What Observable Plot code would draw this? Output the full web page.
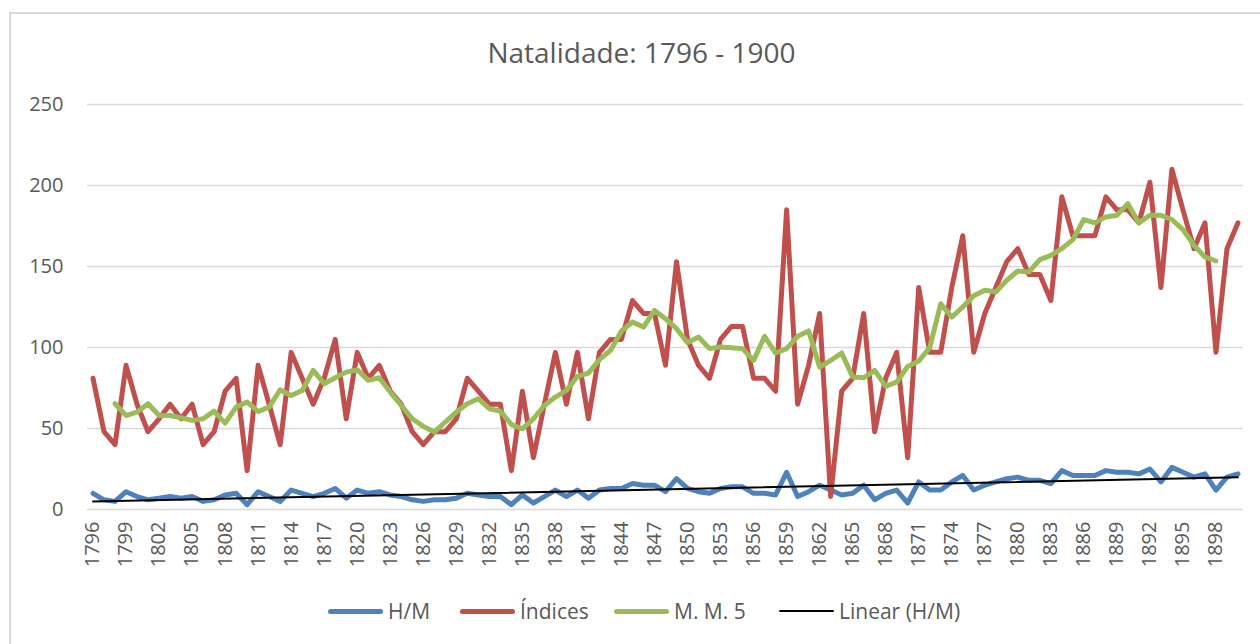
<!DOCTYPE html>
<html>
<head>
<meta charset="utf-8">
<script src="https://cdn.jsdelivr.net/npm/d3@7"></script>
<script src="https://cdn.jsdelivr.net/npm/@observablehq/plot@0.6"></script>
<style>
  html, body { margin:0; padding:0; background:#fff; overflow:hidden; width:1260px; height:644px; }
  body { font-family:'Open Sans', sans-serif; color:#595959; position:relative; }
  #frame { position:absolute; left:9px; top:12px; width:1400px; height:800px; border:2px solid #d9d9d9; box-sizing:border-box; }
  #title { position:absolute; left:0; top:38px; width:1283px; text-align:center; font-size:28px; line-height:28px; color:#595959; }
  #chart { position:absolute; left:0; top:80px; }
  .item { position:absolute; top:599px; height:24px; display:flex; align-items:center; font-size:21px; line-height:24px; color:#595959; white-space:nowrap; }
  .sw { width:55px; margin-right:5px; border-radius:3px; }
</style>
</head>
<body>
<div id="frame"></div>
<div id="title">Natalidade: 1796 - 1900</div>
<div id="chart"></div>
<div id="legend"></div>
<script>
// Categories (years) and tick labels
const years = d3.range(1796, 1901);
const xTicks = d3.range(1796, 1899, 3);
const yTicks = [0, 50, 100, 150, 200, 250];

// H/M series (1796-1900)
const hm = [
  10,6,5,11,8,6,7,8,7,8,
  5,6,9,10,3,11,8,5,12,10,
  8,10,13,7,12,10,11,9,8,6,
  5,6,6,7,10,9,8,8,3,9,
  4,8,12,8,12,7,12,13,13,16,
  15,15,11,19,13,11,10,13,14,14,
  10,10,9,23,8,11,15,12,9,10,
  15,6,10,12,4,17,12,12,17,21,
  12,15,17,19,20,18,18,16,24,21,
  21,21,24,23,23,22,25,17,26,23,
  20,22,12,20,22
];

// Índices series (1796-1900)
const indices = [
  81,48,40,89,65,48,56,65,56,65,
  40,48,73,81,24,89,65,40,97,81,
  65,81,105,56,97,81,89,73,65,48,
  40,48,48,56,81,73,65,65,24,73,
  32,65,97,65,97,56,97,105,105,129,
  121,121,89,153,105,89,81,105,113,113,
  81,81,73,185,65,89,121,8,73,81,
  121,48,81,97,32,137,97,97,137,169,
  97,121,137,153,161,145,145,129,193,169,
  169,169,193,185,185,177,202,137,210,185,
  161,177,97,161,177
];

// M. M. 5 series (1798-1898)
const mmYears = d3.range(1798, 1899);
const mm5 = [
  65.3,58,60.1,65.3,58,58,56.6,55,56,60.7,53.3,63.2,66.3,60.5,63.2,73.9,70.4,73.5,85.9,
  77.6,81.3,84.8,86.3,79.7,81.3,72.5,64.2,56,51.3,47.8,54,60.1,65.3,68.4,62.2,60.7,52.5,49.8,56,
  64.2,69.4,73.5,82.2,84.2,92.5,98.2,110.2,115.7,112.6,122.9,117.8,111.6,103,106.5,99.3,100.3,99.9,99.3,92,
  106.9,96.6,99.3,106.9,110.2,87.9,92,96.6,81.8,81.3,85.9,76,78.7,88.3,91.6,99.9,127,118.8,125,132,
  135.3,134.3,141.5,147.2,146.6,154.2,156.9,161,166.6,179,176.9,180.6,181.6,188.8,176.9,181.6,181.6,179,172.8,163.1,155.9,153.4
];

const seriesNames = ["H/M", "Índices", "M. M. 5", "Linear (H/M)"];
const seriesColors = ["#4F81BD", "#C0504D", "#9BBB59", "#000000"];

const hmData = years.map((y, i) => ({year: y, v: hm[i]}));
const idxData = years.map((y, i) => ({year: y, v: indices[i]}));
const mmData = mmYears.map((y, i) => ({year: y, v: mm5[i]}));

const chart = Plot.plot({
  width: 1260,
  height: 509,
  marginTop: 24,
  marginBottom: 80,
  marginLeft: 87,
  marginRight: 17,
  x: {type: "linear", domain: [1795.5, 1900.5]},
  y: {domain: [0, 250]},
  style: {fontFamily: "'Open Sans', sans-serif", fontSize: "20px", color: "#595959", background: "transparent", overflow: "visible"},
  marks: [
    Plot.ruleY(yTicks, {stroke: "#d9d9d9", strokeWidth: 1.5}),
    Plot.axisY({ticks: yTicks, tickSize: 0, tickPadding: 24, label: null, fontSize: 20, fill: "#595959"}),
    Plot.axisX({ticks: xTicks, tickSize: 0, tickPadding: 12, tickRotate: -90, tickFormat: d => String(d), label: null, fontSize: 20, fill: "#595959"}),
    Plot.lineY(hmData, {x: "year", y: "v", stroke: seriesColors[0], strokeWidth: 5, strokeLinejoin: "round", strokeLinecap: "round"}),
    Plot.lineY(idxData, {x: "year", y: "v", stroke: seriesColors[1], strokeWidth: 5, strokeLinejoin: "round", strokeLinecap: "round"}),
    Plot.lineY(mmData, {x: "year", y: "v", stroke: seriesColors[2], strokeWidth: 5, strokeLinejoin: "round", strokeLinecap: "round"}),
    Plot.linearRegressionY(hmData, {x: "year", y: "v", stroke: seriesColors[3], strokeWidth: 2, ci: 0})
  ]
});
document.getElementById("chart").appendChild(chart);

const legend = document.getElementById("legend");
const legendLeft = [328, 460, 614, 779];
seriesNames.forEach((name, i) => {
  const item = document.createElement("div");
  item.className = "item";
  item.style.left = legendLeft[i] + "px";
  const sw = document.createElement("div");
  sw.className = "sw";
  sw.style.background = seriesColors[i];
  sw.style.height = i === 3 ? "2px" : "5px";
  const t = document.createElement("span");
  t.textContent = name;
  item.appendChild(sw);
  item.appendChild(t);
  legend.appendChild(item);
});
</script>
</body>
</html>
